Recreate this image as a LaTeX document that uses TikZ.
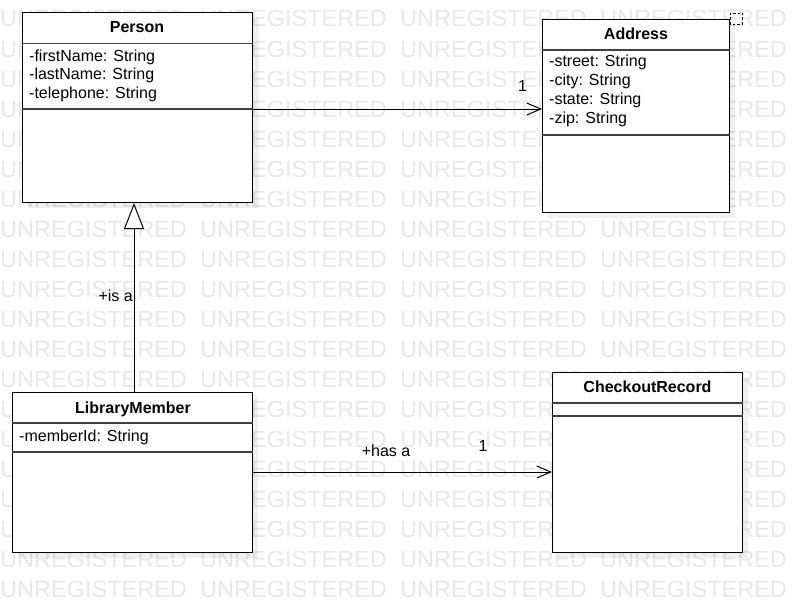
\documentclass[tikz,border=0pt]{standalone}
\usepackage{fontspec}
\setmainfont{Liberation Sans}
\usetikzlibrary{arrows.meta,calc}
\begin{document}
\begin{tikzpicture}[x=1pt,y=-1pt,
  classbox/.style={draw=black, line width=1pt, fill=white, rectangle, anchor=north west, inner sep=0pt},
  sepline/.style={draw=black!75, line width=1.2pt},
  attr/.style={anchor=base west, inner sep=0pt, font=\fontsize{16}{18}\selectfont},
  hdr/.style={anchor=base, inner sep=0pt, font=\fontsize{16}{18}\selectfont\bfseries},
  lbl/.style={anchor=base, inner sep=0pt, font=\fontsize{16}{18}\selectfont},
  wm/.style={anchor=base west, inner sep=0pt, text=black!9, font=\fontsize{23.5}{24}\selectfont},
  shadowbox/.style={fill=black, opacity=0.06, draw=none},
  assoc/.style={draw=black, line width=1pt, -{Straight Barb[length=14pt,width=12pt,line width=1pt]}},
  gen/.style={draw=black, line width=1pt, -{Triangle[open,length=26pt,width=20pt,fill=white,line width=1pt]}},
  handle/.style={draw=black, line width=0.9pt, dash pattern=on 2.5pt off 2pt}
]
\useasboundingbox (0,0) rectangle (792,602);
\fill[white] (0,0) rectangle (792,602);
% watermark
\foreach \k in {0,...,19}{
  \foreach \c in {0,1,2,3}{
    \node[wm] (wm-\k-\c) at (200*\c, 27+30*\k) {UNREGISTERED};
  }
}
% shadows
\fill[shadowbox] (28,18) rectangle (259,208);
\fill[shadowbox] (548,25) rectangle (735,218);
\fill[shadowbox] (18,398) rectangle (258,558);
\fill[shadowbox] (558,378) rectangle (748,558);
% class boxes
\node[classbox, minimum width=230pt, minimum height=190pt] (person) at (22,12) {};
\node[classbox, minimum width=187pt, minimum height=193pt] (address) at (542,19) {};
\node[classbox, minimum width=240pt, minimum height=160pt] (member) at (12,392) {};
\node[classbox, minimum width=190pt, minimum height=180pt] (checkout) at (552,372) {};
% separators
\draw[sepline] (person.west |- 0,43.5) -- (person.east |- 0,43.5);
\draw[sepline] (person.west |- 0,109) -- (person.east |- 0,109);
\draw[sepline] (address.west |- 0,50) -- (address.east |- 0,50);
\draw[sepline] (address.west |- 0,135) -- (address.east |- 0,135);
\draw[sepline] (member.west |- 0,423) -- (member.east |- 0,423);
\draw[sepline] (member.west |- 0,452) -- (member.east |- 0,452);
\draw[sepline] (checkout.west |- 0,403) -- (checkout.east |- 0,403);
\draw[sepline] (checkout.west |- 0,416) -- (checkout.east |- 0,416);
% headers
\node[hdr] (person-h) at (137,33) {Person};
\node[hdr] (address-h) at (636,39.3) {Address};
\node[hdr] (member-h) at (133,413) {LibraryMember};
\node[hdr] (checkout-h) at (647.5,392) {CheckoutRecord};
% attributes
\node[attr] (p1) at (29,61.5) {-firstName: String};
\node[attr] (p2) at (29,80) {-lastName: String};
\node[attr] (p3) at (29,98.5) {-telephone: String};
\node[attr] (a1) at (549,66.5) {-street: String};
\node[attr] (a2) at (549,85.5) {-city: String};
\node[attr] (a3) at (549,104.5) {-state: String};
\node[attr] (a4) at (549,123) {-zip: String};
\node[attr] (m1) at (19,441) {-memberId: String};
% handle
\draw[handle] (address.north east) ++(0,-6) rectangle ++(12,11);
% connectors
\draw[assoc] (person.east |- 0,109) -- (address.west |- 0,109);
\draw[gen] (member.north -| 134,0) -- (person.south -| 134,0);
\draw[assoc] (member.east |- 0,472) -- (checkout.west |- 0,472);
% labels
\node[lbl] (l1) at (522.5,91.5) {1};
\node[lbl, anchor=base east] (l2) at (133,301.5) {+is a};
\node[lbl] (l3) at (386,456) {+has a};
\node[lbl] (l4) at (483,451.5) {1};
\end{tikzpicture}
\end{document}
